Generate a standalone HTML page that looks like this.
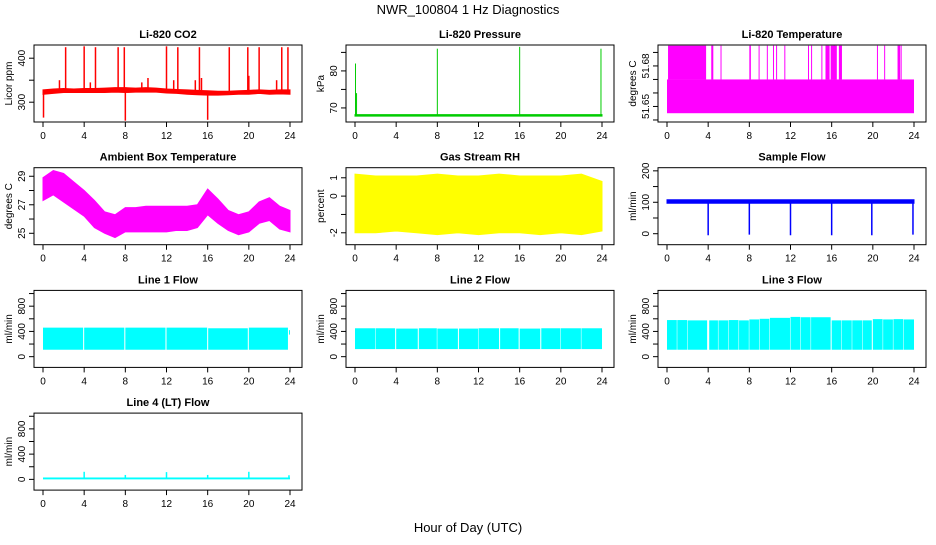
<!DOCTYPE html>
<html><head><meta charset="utf-8"><style>
body{margin:0;background:#fff;}
svg text{font-family:"Liberation Sans",sans-serif;}
</style></head><body>
<svg id="chart" width="936" height="540" xmlns="http://www.w3.org/2000/svg">
<text x="468" y="14" text-anchor="middle" font-size="13">NWR_100804  1 Hz Diagnostics</text>
<text x="468" y="532" text-anchor="middle" font-size="13">Hour of Day (UTC)</text>
</svg>
<script>
const xTicks=[0,4,8,12,16,20,24];
// CO2
const co2BandX=[0,1,2,3,4,5,6,7,8,9,10,11,12,13,14,15,16,17,18,19,20,21,22,23,24];
const co2Lo=[318,320,322,322,322,322,322,323,322,323,323,323,321,320,318,317,316,316,317,318,318,320,318,319,318];
const co2Hi=[328,330,331,330,331,331,332,333,333,332,333,332,330,329,328,327,326,325,325,326,327,328,327,328,328];
const co2SpikeX=[0.05,1.6,2.2,4.0,4.6,5.1,7.3,7.9,8.0,9.6,10.2,12.0,12.7,13.1,14.8,15.2,15.4,16.0,18.1,19.9,20.0,21.0,22.7,23.2,23.8];
const co2SpikeV=[265,350,425,427,345,425,425,425,258,345,355,427,350,425,350,425,355,260,425,425,360,425,350,425,425];
// Pressure
const presBase=68;
const presSpikeX=[0.05,0.15,8.0,16.0,23.9];
const presSpikeV=[82,74,86,86.5,86];
// Li temperature
const ltLo=51.645, ltMid=51.67, ltHi=51.695;
const ltHighStart=[0.1,4.3,5.2,8.0,8.9,9.7,10.3,10.6,11.4,13.7,14.0,15.0,15.4,15.9,16.2,16.7,20.4,21.1,22.4,22.7];
const ltHighEnd=[3.8,4.5,5.25,8.15,8.95,9.75,10.35,10.65,11.45,13.75,14.05,15.05,15.8,16.5,16.3,17.0,20.45,21.15,22.65,22.8];
// Ambient
const ambX=[0,1,2,3,4,5,6,7,8,9,10,11,12,13,14,15,16,17,18,19,20,21,22,23,24];
const ambLo=[27.3,27.7,27.2,26.7,26.2,25.4,25.0,24.7,25.1,25.1,25.1,25.1,25.1,25.2,25.2,25.4,26.3,25.7,25.2,24.9,25.1,25.7,25.9,25.3,25.1];
const ambHi=[28.9,29.4,29.2,28.6,28.0,27.3,26.5,26.3,26.8,26.8,26.9,26.9,26.9,26.9,26.9,27.0,28.1,27.4,26.6,26.3,26.5,27.2,27.5,26.9,26.6];
// RH
const rhX=[0,2,4,6,8,10,12,14,16,18,20,22,24];
const rhLo=[-2.0,-2.0,-1.9,-2.0,-2.1,-2.0,-2.1,-2.0,-2.0,-2.1,-2.0,-2.1,-1.9];
const rhHi=[1.2,1.1,1.1,1.1,1.2,1.1,1.1,1.2,1.1,1.1,1.1,1.2,0.8];
// Sample flow
const sfLo=97, sfHi=108;
const sfDropX=[4.0,8.0,12.0,16.0,19.9,23.9];
const sfDropV=[-5,-3,-5,-5,-5,-3];
// Line flows: segments
const l1Start=[0,4.0,8.0,12.0,16.05,20.0,23.9];
const l1End=[3.9,7.9,11.9,15.95,19.9,23.8,24];
const l1Lo=[110,110,110,110,110,110,350];
const l1Hi=[460,460,460,460,450,460,420];
const l2Start=[0,2.0,4.0,6.2,8.0,10.1,12.0,14.1,16.0,18.1,20.0,22.0];
const l2End=[1.95,3.9,6.1,7.95,10.0,11.95,14.0,15.9,18.0,19.95,21.95,24];
const l2Lo=[120,120,120,120,120,120,120,120,120,120,120,120];
const l2Hi=[450,450,445,450,445,445,450,450,445,450,450,450];
const l3Start=[0,1.0,2.0,4.1,5.0,6.0,7.0,8.0,9.0,10.0,12.0,13.0,14.0,16.0,17.0,18.0,19.0,20.0,21.0,22.0,23.0];
const l3End=[0.95,1.95,3.9,4.95,5.95,6.95,7.95,8.95,9.95,11.95,12.95,13.95,15.9,16.95,17.95,18.95,19.9,20.95,21.95,22.95,24];
const l3Lo=[110,110,110,110,110,110,110,110,110,110,110,110,110,110,110,110,110,110,110,110,110];
const l3Hi=[580,580,575,575,575,580,575,590,600,615,630,625,625,575,575,575,575,595,590,595,590];
// Line 4
const l4Base=15;
const l4SpikeX=[4.0,8.0,12.0,16.0,20.0,23.9];
const l4SpikeV=[120,70,115,70,120,65];

const svg=document.getElementById('chart');
const NS='http://www.w3.org/2000/svg';
function mk(tag,attrs,parent){const e=document.createElementNS(NS,tag);for(const k in attrs)e.setAttribute(k,attrs[k]);(parent||svg).appendChild(e);return e;}

function panel(col,row,title,ylab,ymin,ymax,yt,ylabels,name){
  const x0=34+312*col, y0=45+122.7*row, w=268, h=77;
  const g=mk('g',{});
  
  
  const X=v=>x0+9+v*247/24;
  const Y=v=>y0+h-(v-ymin)/(ymax-ymin)*h;
  const t=mk('text',{x:x0+w/2,y:y0-7,'text-anchor':'middle','font-size':'11','font-weight':'bold'},g);
  t.textContent=title;
  
  
  const plot=mk('g',{},g);
  
  
  const box=mk('rect',{x:x0,y:y0,width:w,height:h,fill:'none',stroke:'#000','stroke-width':1},g);
  
  
  xTicks.forEach(v=>{
    mk('line',{x1:X(v),x2:X(v),y1:y0+h,y2:y0+h+5,stroke:'#000'},g);
    const tl=mk('text',{x:X(v),y:y0+h+17,'text-anchor':'middle','font-size':'10'},g);
    tl.textContent=v;
    
    
  });
  mk('line',{x1:x0,x2:x0,y1:Y(yt[0]),y2:Y(yt[yt.length-1]),stroke:'#000'},g);
  yt.forEach((v,i)=>{
    mk('line',{x1:x0-5,x2:x0,y1:Y(v),y2:Y(v),stroke:'#000'},g);
    if(ylabels[i]!==''){
      const yl=mk('text',{x:0,y:0,'text-anchor':'middle','font-size':'10',transform:`translate(${x0-9},${Y(v)}) rotate(-90)`},g);
      yl.textContent=ylabels[i];
      
      
    }
  });
  const yt2=mk('text',{x:0,y:0,'text-anchor':'middle','font-size':'10',transform:`translate(${x0-22},${y0+h/2}) rotate(-90)`},g);
  yt2.textContent=ylab;
  
  
  return {X,Y,plot};
}
function band(p,xs,lo,hi,color){
  let pts=xs.map((x,i)=>p.X(x)+','+p.Y(hi[i]));
  for(let i=xs.length-1;i>=0;i--)pts.push(p.X(xs[i])+','+p.Y(lo[i]));
  const e=mk('polygon',{points:pts.join(' '),fill:color,stroke:color,'stroke-width':1},p.plot);
  
  
}
function vline(p,x,v1,v2,color,wd){
  const e=mk('line',{x1:p.X(x),x2:p.X(x),y1:p.Y(v1),y2:p.Y(v2),stroke:color,'stroke-width':wd||1.2},p.plot);
  
  
}
function rectSeg(p,s,e2,lo,hi,color){
  const r=mk('rect',{x:p.X(s),y:p.Y(hi),width:Math.max(1,p.X(e2)-p.X(s)),height:p.Y(lo)-p.Y(hi),fill:color},p.plot);
  
  
}

// CO2
let p=panel(0,0,'Li-820 CO2','Licor ppm',255,430,[300,350,400],['300','','400'],'co2');
band(p,co2BandX,co2Lo,co2Hi,'#f00');
co2SpikeX.forEach((x,i)=>vline(p,x,325,co2SpikeV[i],'#f00',1.5));
// Pressure
p=panel(1,0,'Li-820 Pressure','kPa',66.2,87.0,[70,75,80,85],['70','','80',''],'pressure');
band(p,[0,24],[presBase-0.2,presBase-0.2],[presBase+0.2,presBase+0.2],'#0c0');
presSpikeX.forEach((x,i)=>vline(p,x,presBase,presSpikeV[i],'#0c0',1));
// Li temp
p=panel(2,0,'Li-820 Temperature','degrees C',51.6385,51.6955,[51.64,51.65,51.66,51.67,51.68,51.69],['','51.65','','','51.68',''],'li-temp');
rectSeg(p,0,24,ltLo,ltMid,'#f0f');
ltHighStart.forEach((s,i)=>rectSeg(p,s,ltHighEnd[i],ltMid,ltHi,'#f0f'));
// Ambient
p=panel(0,1,'Ambient Box Temperature','degrees C',24.2,29.6,[25,26,27,28,29],['25','','27','','29'],'ambient');
band(p,ambX,ambLo,ambHi,'#f0f');
// RH
p=panel(1,1,'Gas Stream RH','percent',-2.65,1.55,[-2,-1,0,1],['-2','','0','1'],'rh');
band(p,rhX,rhLo,rhHi,'#ff0');
// Sample flow
p=panel(2,1,'Sample Flow','ml/min',-35,210,[0,50,100,150,200],['0','','100','','200'],'sample-flow');
band(p,[0,24],[sfLo,sfLo],[sfHi,sfHi],'#00f');
sfDropX.forEach((x,i)=>vline(p,x,100,sfDropV[i],'#00f',1.5));
// Lines
const flowTicks=[0,200,400,600,800,1000], flowLabels=['0','','400','','800',''];
p=panel(0,2,'Line 1 Flow','ml/min',-170,1050,flowTicks,flowLabels,'line1-flow');
l1Start.forEach((s,i)=>rectSeg(p,s,l1End[i],l1Lo[i],l1Hi[i],'#0ff'));
p=panel(1,2,'Line 2 Flow','ml/min',-170,1050,flowTicks,flowLabels,'line2-flow');
l2Start.forEach((s,i)=>rectSeg(p,s,l2End[i],l2Lo[i],l2Hi[i],'#0ff'));
p=panel(2,2,'Line 3 Flow','ml/min',-170,1050,flowTicks,flowLabels,'line3-flow');
l3Start.forEach((s,i)=>rectSeg(p,s,l3End[i],l3Lo[i],l3Hi[i],'#0ff'));
p=panel(0,3,'Line 4 (LT) Flow','ml/min',-170,1050,flowTicks,flowLabels,'line4-flow');
rectSeg(p,0,24,0,l4Base+15,'#0ff');
l4SpikeX.forEach((x,i)=>vline(p,x,l4Base,l4SpikeV[i],'#0ff',1.5));
</script>
</body></html>
